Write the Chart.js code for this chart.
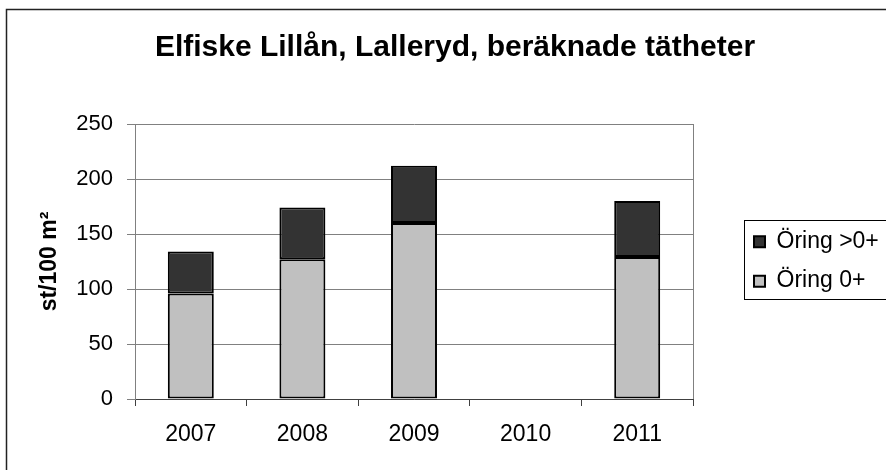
<!DOCTYPE html>
<html>
<head>
<meta charset="utf-8">
<script src="https://cdn.jsdelivr.net/npm/chart.js@4.4.1/dist/chart.umd.min.js"></script>
<style>
  html, body { margin: 0; padding: 0; background: #fff; }
  #wrap { width: 886px; height: 470px; position: relative; }
</style>
</head>
<body>
<div id="wrap"><canvas id="c" width="886" height="470"></canvas></div>
<script>
// ---- data ----
const years = ['2007', '2008', '2009', '2010', '2011'];
const oring0 = [96, 127, 160, null, 129];      // Öring 0+
const oringOlder = [38, 47, 52, null, 51];     // Öring >0+
const seriesNames = ['Öring 0+', 'Öring >0+'];
const titleText = 'Elfiske Lillån, Lalleryd, beräknade tätheter';
const yTitle = 'st/100 m²';
const yMin = 0, yMax = 250, yStep = 50;

const FONT = "'Liberation Sans', Arial, sans-serif";

const decor = {
  id: 'decor',
  beforeLayout(chart) {
    const lg = chart.legend;
    if (lg && !lg.__patched) {
      const fit = lg.fit;
      lg.fit = function () { fit.call(this); this.width = 193; };
      lg.__patched = true;
    }
  },
  afterLayout(chart) {
    const lg = chart.legend;
    const a = chart.chartArea;
    if (lg) {
      const w = lg.width;
      lg.left = 737.7;
      lg.right = lg.left + w;
      lg.top = a.top;
      lg.bottom = a.bottom;
      lg.height = a.bottom - a.top;
    }
    const t = chart.titleBlock;
    if (t) { t.left += 12; t.right += 12; }
  },
  beforeDraw(chart) {
    const ctx = chart.ctx;
    ctx.save();
    ctx.fillStyle = '#ffffff';
    ctx.fillRect(0, 0, chart.width, chart.height);
    ctx.strokeStyle = '#222';
    ctx.lineWidth = 1.5;
    ctx.strokeRect(6.5, 9.5, 920, 520);
    ctx.restore();
  },
  beforeDatasetsDraw(chart) {
    const ctx = chart.ctx, a = chart.chartArea;
    ctx.save();
    ctx.strokeStyle = '#808080';
    ctx.lineWidth = 1;
    ctx.beginPath();
    ctx.moveTo(Math.round(a.right) + 0.5, a.top);
    ctx.lineTo(Math.round(a.right) + 0.5, a.bottom);
    ctx.stroke();
    ctx.restore();
  },
  afterDraw(chart) {
    const lg = chart.legend;
    if (!lg || !lg.columnSizes) return;
    const pad = lg.options.labels.padding;
    const colH = lg.columnSizes[0].height;
    const y0 = (lg.top + pad + lg.bottom - colH) / 2;
    const ctx = chart.ctx;
    ctx.save();
    ctx.strokeStyle = '#000';
    ctx.lineWidth = 1;
    const x = Math.round(lg.left + pad - 10) + 0.5;
    const top = Math.round(y0 - 10) + 0.5;
    ctx.strokeRect(x, top, 300, 79);
    ctx.restore();
  }
};

new Chart(document.getElementById('c'), {
  type: 'bar',
  data: {
    labels: years,
    datasets: [
      {
        label: seriesNames[0],
        data: oring0,
        backgroundColor: '#C0C0C0',
        borderColor: '#000000',
        borderWidth: 2,
        borderSkipped: false,
        stack: 's'
      },
      {
        label: seriesNames[1],
        data: oringOlder,
        backgroundColor: '#333333',
        borderColor: '#000000',
        borderWidth: 2,
        borderSkipped: false,
        stack: 's'
      }
    ]
  },
  options: {
    responsive: false,
    animation: false,
    devicePixelRatio: 1,
    datasets: { bar: { barPercentage: 0.412, categoryPercentage: 1 } },
    layout: { padding: { left: 0, right: 0, top: 0, bottom: 0 } },
    plugins: {
      tooltip: { enabled: false },
      title: {
        display: true,
        text: titleText,
        color: '#000',
        font: { family: FONT, size: 30, weight: 'bold' },
        padding: { top: 30, bottom: 58 }
      },
      legend: {
        position: 'right',
        fullSize: false,
        reverse: true,
        labels: {
          color: '#000',
          font: { family: FONT, size: 23 },
          boxWidth: 11,
          boxHeight: 11,
          padding: 16.3
        }
      }
    },
    scales: {
      x: {
        stacked: true,
        offset: true,
        grid: {
          display: true,
          offset: true,
          drawOnChartArea: false,
          drawTicks: true,
          tickLength: 7,
          color: '#404040'
        },
        border: { display: true, color: '#404040', width: 1 },
        ticks: {
          color: '#000',
          font: { family: FONT, size: 23 },
          padding: 14.5,
          maxRotation: 0,
          autoSkip: false
        },
        afterFit(scale) { scale.height = 71; }
      },
      y: {
        stacked: true,
        min: yMin,
        max: yMax,
        ticks: {
          stepSize: yStep,
          color: '#000',
          font: { family: FONT, size: 22 },
          padding: 14
        },
        grid: {
          color: '#808080',
          tickLength: 8,
          drawTicks: true
        },
        border: { display: true, color: '#808080', width: 1 },
        title: {
          display: true,
          text: yTitle,
          color: '#000',
          font: { family: FONT, size: 23, weight: 'bold' },
          padding: { top: 36.2, bottom: 0 }
        },
        afterFit(scale) { scale.width = 135; }
      }
    }
  },
  plugins: [decor]
});
</script>
</body>
</html>
